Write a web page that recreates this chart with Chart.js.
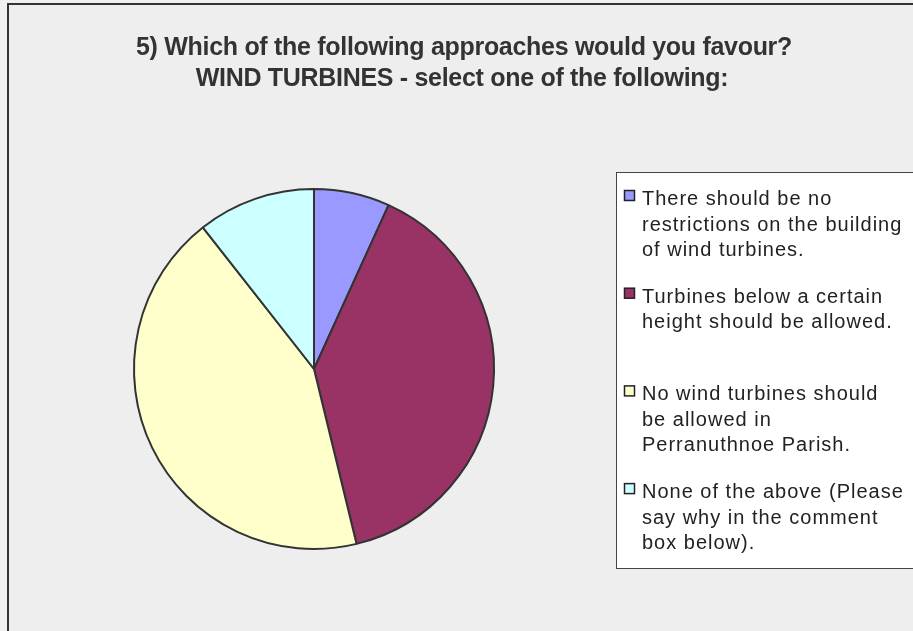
<!DOCTYPE html>
<html><head><meta charset="utf-8">
<script src="https://cdn.jsdelivr.net/npm/chart.js@4/dist/chart.umd.min.js"></script>
<style>html,body{margin:0;padding:0;background:#efefef;overflow:hidden}#wrap{width:913px;height:631px;position:relative}</style>
</head><body><div id="wrap"><canvas id="c" width="913" height="631"></canvas></div>
<script>
const titleLines = ['5) Which of the following approaches would you favour?', 'WIND TURBINES - select one of the following:'];
const categories = [
  ['There should be no', 'restrictions on the building', 'of wind turbines.'],
  ['Turbines below a certain', 'height should be allowed.'],
  ['No wind turbines should', 'be allowed in', 'Perranuthnoe Parish.'],
  ['None of the above (Please', 'say why in the comment', 'box below).']
];
const shares = [6.8, 39.4, 43.2, 10.6];
const colors = ['#9999ff', '#993366', '#ffffcc', '#ccffff'];

const framePlugin = {
  id: 'frame',
  beforeDraw(chart) {
    const ctx = chart.ctx;
    ctx.save();
    ctx.fillStyle = '#f0f0f0';
    ctx.fillRect(0, 0, 913, 631);
    ctx.fillStyle = '#eeeeee';
    ctx.fillRect(8, 4, 920, 640);
    ctx.strokeStyle = '#333333';
    ctx.lineWidth = 2;
    ctx.strokeRect(8, 4, 920, 640);
    ctx.restore();
  },
  afterDraw(chart) {
    const ctx = chart.ctx;
    ctx.save();
    // title
    ctx.fillStyle = '#333333';
    ctx.font = 'bold 25px "Liberation Sans", Arial, sans-serif';
    ctx.textAlign = 'center';
    ctx.textBaseline = 'alphabetic';
    if ('letterSpacing' in ctx) ctx.letterSpacing = '-0.3px';
    ctx.fillText(titleLines[0], 464, 55);
    ctx.fillText(titleLines[1], 462, 86);
    // legend
    ctx.fillStyle = '#ffffff';
    ctx.fillRect(616.5, 172.5, 320, 396);
    ctx.strokeStyle = '#444444';
    ctx.lineWidth = 1;
    ctx.strokeRect(616.5, 172.5, 320, 396);
    ctx.font = '20px "Liberation Sans", Arial, sans-serif';
    if ('letterSpacing' in ctx) ctx.letterSpacing = '1px';
    ctx.textAlign = 'left';
    const labels = chart.data.labels;
    const bg = chart.data.datasets[0].backgroundColor;
    labels.forEach((lines, i) => {
      const base = 205 + i * 97.7;
      ctx.fillStyle = bg[i];
      ctx.fillRect(624.5, base - 14.5, 10, 10);
      ctx.strokeStyle = '#222222';
      ctx.lineWidth = 1.5;
      ctx.strokeRect(624.5, base - 14.5, 10, 10);
      ctx.fillStyle = '#222222';
      lines.forEach((t, j) => ctx.fillText(t, 642, base + j * 25.5));
    });
    ctx.restore();
  }
};

new Chart(document.getElementById('c'), {
  type: 'pie',
  data: {
    labels: categories,
    datasets: [{
      data: shares,
      backgroundColor: colors,
      borderColor: '#333333',
      borderWidth: 2
    }]
  },
  options: {
    responsive: false,
    animation: false,
    layout: { padding: { left: 133, right: 418, top: 188, bottom: 81 } },
    plugins: {
      legend: { display: false },
      title: { display: false },
      tooltip: { enabled: false }
    }
  },
  plugins: [framePlugin]
});
</script>
</body></html>
